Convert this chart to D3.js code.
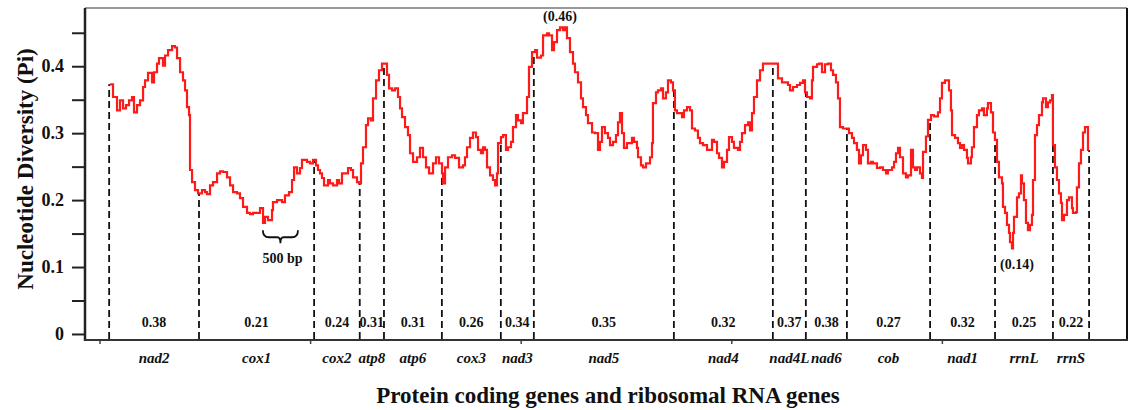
<!DOCTYPE html>
<html>
<head>
<meta charset="utf-8">
<script src="https://cdn.jsdelivr.net/npm/d3@7"></script>
<style>
  body { margin: 0; background: #fff; }
  svg text { font-family: "Liberation Serif", "Times New Roman", serif; font-weight: bold; fill: #111; }
</style>
</head>
<body>
<svg id="chart" width="1134" height="410"></svg>
<script>
// genes along the mitogenome, boundaries in bp, and mean Pi per gene
const genes = ["nad2", "cox1", "cox2", "atp8", "atp6", "cox3", "nad3", "nad5", "nad4", "nad4L", "nad6", "cob", "nad1", "rrnL", "rrnS"];
const geneBounds = [130, 1410, 3050, 3700, 4045, 4870, 5710, 6180, 8175, 9585, 10055, 10640, 11825, 12750, 13575, 14090];
const genePi = ["0.38", "0.21", "0.24", "0.31", "0.31", "0.26", "0.34", "0.35", "0.32", "0.37", "0.38", "0.27", "0.32", "0.25", "0.22"];

// sliding window: [window midpoint (bp), Pi]
const piSeries = [
  [142,0.373],[185,0.354],[242,0.334],[285,0.349],[328,0.337],[370,0.342],[413,0.349],[456,0.354],[484,0.331],[527,0.342],
  [570,0.349],[613,0.369],[641,0.379],[684,0.390],[741,0.376],[769,0.391],[812,0.404],[840,0.412],[897,0.401],[926,0.416],
  [969,0.424],[1026,0.430],[1068,0.428],[1097,0.412],[1140,0.391],[1182,0.379],[1211,0.364],[1239,0.339],[1268,0.327],[1282,0.245],
  [1311,0.227],[1353,0.215],[1396,0.210],[1453,0.215],[1496,0.212],[1524,0.209],[1567,0.222],[1610,0.227],[1667,0.240],[1709,0.243],
  [1752,0.242],[1809,0.234],[1852,0.222],[1895,0.212],[1952,0.210],[1994,0.203],[2037,0.190],[2094,0.181],[2137,0.179],[2179,0.181],
  [2236,0.181],[2279,0.188],[2322,0.166],[2350,0.175],[2393,0.170],[2450,0.185],[2464,0.197],[2521,0.200],[2593,0.197],[2635,0.207],
  [2692,0.212],[2735,0.230],[2764,0.249],[2806,0.240],[2849,0.248],[2877,0.260],[2949,0.257],[2991,0.255],[3034,0.260],[3077,0.252],
  [3105,0.245],[3134,0.240],[3162,0.233],[3191,0.222],[3248,0.230],[3276,0.225],[3319,0.222],[3376,0.230],[3405,0.225],[3447,0.240],
  [3490,0.240],[3533,0.248],[3575,0.245],[3604,0.234],[3661,0.227],[3689,0.225],[3718,0.255],[3746,0.279],[3789,0.312],[3818,0.322],
  [3860,0.319],[3889,0.352],[3932,0.379],[3974,0.394],[4017,0.404],[4046,0.404],[4088,0.387],[4117,0.367],[4160,0.364],[4202,0.367],
  [4245,0.354],[4274,0.337],[4302,0.324],[4345,0.309],[4387,0.297],[4416,0.270],[4459,0.257],[4516,0.264],[4558,0.278],[4601,0.264],
  [4644,0.249],[4687,0.240],[4744,0.255],[4786,0.264],[4829,0.255],[4872,0.240],[4886,0.225],[4915,0.249],[4957,0.264],[5014,0.267],
  [5057,0.263],[5114,0.249],[5171,0.252],[5199,0.264],[5228,0.279],[5271,0.293],[5313,0.301],[5356,0.294],[5385,0.275],[5427,0.270],
  [5456,0.279],[5484,0.275],[5513,0.249],[5556,0.237],[5598,0.230],[5627,0.222],[5655,0.240],[5670,0.285],[5712,0.294],[5741,0.297],
  [5783,0.275],[5812,0.279],[5855,0.287],[5883,0.309],[5926,0.327],[5954,0.319],[5997,0.315],[6025,0.330],[6083,0.354],[6111,0.399],
  [6154,0.421],[6197,0.424],[6225,0.413],[6282,0.416],[6311,0.446],[6368,0.449],[6396,0.446],[6439,0.424],[6467,0.436],[6510,0.454],
  [6553,0.458],[6595,0.454],[6624,0.458],[6652,0.442],[6695,0.421],[6738,0.404],[6766,0.391],[6809,0.376],[6852,0.352],[6880,0.339],
  [6923,0.327],[6951,0.315],[7009,0.301],[7051,0.300],[7094,0.275],[7122,0.287],[7151,0.309],[7193,0.300],[7236,0.293],[7265,0.282],
  [7307,0.287],[7350,0.297],[7379,0.316],[7407,0.330],[7436,0.300],[7464,0.278],[7507,0.285],[7536,0.285],[7578,0.293],[7607,0.287],
  [7649,0.278],[7664,0.264],[7706,0.252],[7735,0.249],[7778,0.255],[7806,0.255],[7835,0.264],[7863,0.285],[7877,0.345],[7920,0.361],
  [7948,0.364],[7991,0.367],[8020,0.352],[8062,0.361],[8091,0.379],[8133,0.376],[8162,0.364],[8190,0.334],[8219,0.330],[8248,0.330],
  [8291,0.324],[8319,0.334],[8362,0.339],[8405,0.334],[8433,0.307],[8476,0.304],[8518,0.293],[8547,0.285],[8590,0.282],[8647,0.275],
  [8675,0.275],[8718,0.290],[8746,0.287],[8789,0.270],[8818,0.263],[8860,0.249],[8889,0.257],[8932,0.275],[8960,0.294],[9003,0.287],
  [9031,0.278],[9088,0.275],[9117,0.287],[9145,0.300],[9188,0.312],[9231,0.316],[9259,0.304],[9288,0.330],[9316,0.354],[9359,0.379],
  [9402,0.394],[9444,0.404],[9501,0.404],[9573,0.404],[9630,0.404],[9658,0.382],[9715,0.376],[9758,0.376],[9801,0.372],[9829,0.364],
  [9872,0.369],[9929,0.372],[9972,0.375],[10014,0.379],[10043,0.361],[10071,0.354],[10114,0.352],[10142,0.379],[10157,0.399],[10214,0.403],
  [10242,0.404],[10285,0.391],[10328,0.403],[10370,0.404],[10413,0.394],[10442,0.387],[10484,0.376],[10513,0.352],[10541,0.309],[10584,0.307],
  [10641,0.307],[10669,0.300],[10712,0.293],[10741,0.285],[10783,0.275],[10812,0.255],[10840,0.267],[10869,0.282],[10912,0.275],[10940,0.255],
  [10983,0.257],[11011,0.255],[11068,0.248],[11111,0.249],[11154,0.245],[11197,0.240],[11225,0.245],[11282,0.249],[11311,0.257],[11339,0.270],
  [11368,0.278],[11396,0.264],[11439,0.240],[11481,0.234],[11510,0.237],[11553,0.275],[11581,0.249],[11610,0.245],[11638,0.249],[11681,0.240],
  [11709,0.233],[11724,0.272],[11766,0.295],[11795,0.320],[11838,0.327],[11880,0.325],[11937,0.331],[11966,0.352],[11994,0.375],[12037,0.379],
  [12080,0.379],[12094,0.364],[12122,0.334],[12137,0.297],[12180,0.293],[12222,0.285],[12251,0.278],[12279,0.282],[12308,0.275],[12350,0.263],
  [12365,0.255],[12407,0.264],[12421,0.279],[12450,0.309],[12493,0.327],[12521,0.334],[12564,0.337],[12592,0.327],[12635,0.337],[12649,0.345],
  [12692,0.331],[12721,0.301],[12749,0.290],[12778,0.257],[12806,0.234],[12849,0.225],[12863,0.190],[12892,0.181],[12920,0.163],[12949,0.151],
  [12963,0.137],[12991,0.128],[13006,0.151],[13020,0.175],[13063,0.204],[13091,0.210],[13120,0.237],[13134,0.225],[13162,0.200],[13191,0.166],
  [13219,0.155],[13248,0.163],[13276,0.178],[13291,0.230],[13319,0.297],[13348,0.312],[13376,0.327],[13419,0.346],[13433,0.352],[13476,0.339],
  [13504,0.346],[13533,0.349],[13561,0.357],[13575,0.282],[13604,0.249],[13632,0.230],[13661,0.210],[13689,0.196],[13704,0.170],[13732,0.178],
  [13775,0.200],[13803,0.204],[13846,0.188],[13860,0.181],[13903,0.182],[13917,0.219],[13946,0.255],[13974,0.275],[14003,0.301],[14031,0.309],
  [14060,0.309],[14074,0.275],[14088,0.275]
];

const yTicks = [0, 0.05, 0.1, 0.15, 0.2, 0.25, 0.3, 0.35, 0.4, 0.45];
const xTicks = [0, 3000, 6000, 9000, 12000];
const peakLabels = ["(0.46)", "(0.14)"];
const braceStart = 2320, braceLen = 500, braceLevel = 0.155;

const svg = d3.select("#chart");

const x = d3.scaleLinear().domain([-214, 14630]).range([85, 1127]);
const y = d3.scaleLinear().domain([-0.009, 0.487]).range([340, 8]);

// frame
svg.append("line").attr("x1", 85).attr("x2", 1127).attr("y1", 8).attr("y2", 8)
  .attr("stroke", "#777").attr("stroke-width", 1.5);
svg.append("line").attr("x1", 1127).attr("x2", 1127).attr("y1", 8).attr("y2", 340)
  .attr("stroke", "#111").attr("stroke-width", 2);

// y axis
const yAxis = d3.axisLeft(y)
  .tickValues(yTicks)
  .tickSize(13)
  .tickPadding(8)
  .tickFormat(d => {
    const t = Math.round(d * 100);
    if (t % 10 !== 0) return "";
    return t === 0 ? "0" : (t / 100).toFixed(1);
  });
const gy = svg.append("g").attr("transform", "translate(85,0)").call(yAxis);
gy.select(".domain").remove();
gy.selectAll(".tick line").attr("stroke", "#222").attr("stroke-width", 2);
gy.selectAll(".tick text")
  .attr("font-size", 18)
  .attr("fill", "#111")
  .attr("font-family", "Liberation Serif, Times New Roman, serif")
  .attr("font-weight", "bold");

// x axis small ticks
svg.selectAll(".xtick").data(xTicks).join("line")
  .attr("class", "xtick")
  .attr("x1", d => x(d)).attr("x2", d => x(d))
  .attr("y1", 340).attr("y2", 344)
  .attr("stroke", "#444").attr("stroke-width", 1.5);

svg.append("line").attr("x1", 85).attr("x2", 85).attr("y1", 8).attr("y2", 341)
  .attr("stroke", "#222").attr("stroke-width", 2.5);
svg.append("line").attr("x1", 84).attr("x2", 1128).attr("y1", 340).attr("y2", 340)
  .attr("stroke", "#333").attr("stroke-width", 2);

// dashed gene boundaries, up to the curve
const bisect = d3.bisector(d => d[0]).right;
function piAt(bp) {
  const i = Math.max(0, bisect(piSeries, bp) - 1);
  return piSeries[i][1];
}
svg.selectAll(".bound").data(geneBounds).join("line")
  .attr("class", "bound")
  .attr("x1", d => x(d)).attr("x2", d => x(d))
  .attr("y1", 339).attr("y2", d => y(piAt(d)))
  .attr("stroke", "#111").attr("stroke-width", 1.8)
  .attr("stroke-dasharray", "7,4");

// diversity curve
const line = d3.line()
  .x(d => x(d[0]))
  .y(d => y(d[1]))
  .curve(d3.curveStepAfter);
svg.append("path").datum(piSeries)
  .attr("d", line)
  .attr("fill", "none")
  .attr("stroke", "#ff1a1a")
  .attr("stroke-width", 2.2)
  .attr("stroke-linejoin", "miter");

// gene labels and per-gene Pi
const mids = genes.map((g, i) => (geneBounds[i] + geneBounds[i + 1]) / 2);
svg.selectAll(".pi").data(genePi).join("text")
  .attr("class", "pi")
  .attr("x", (d, i) => x(mids[i]))
  .attr("y", 327)
  .attr("text-anchor", "middle")
  .attr("font-size", 14)
  .text(d => d);

svg.selectAll(".gene").data(genes).join("text")
  .attr("class", "gene")
  .attr("x", (d, i) => x(mids[i]))
  .attr("y", 363)
  .attr("text-anchor", "middle")
  .attr("font-size", 15)
  .attr("font-style", "italic")
  .text(d => d);

// max / min annotations
const maxPt = piSeries.reduce((a, b) => (b[1] > a[1] ? b : a));
const minPt = piSeries.reduce((a, b) => (b[1] < a[1] ? b : a));
svg.append("text")
  .attr("x", x(maxPt[0])).attr("y", y(maxPt[1]) - 6)
  .attr("text-anchor", "middle").attr("font-size", 14)
  .text(peakLabels[0]);
svg.append("text")
  .attr("x", x(minPt[0]) + 5).attr("y", y(minPt[1]) + 21)
  .attr("text-anchor", "middle").attr("font-size", 14)
  .text(peakLabels[1]);

// 500 bp brace
const bx0 = x(braceStart), bx1 = x(braceStart + braceLen), bm = (bx0 + bx1) / 2, by = y(braceLevel);
svg.append("path")
  .attr("d", `M${bx0},${by} Q${bx0},${by + 7} ${bx0 + 6},${by + 7} L${bm - 3},${by + 7} Q${bm},${by + 7} ${bm},${by + 13} Q${bm},${by + 7} ${bm + 3},${by + 7} L${bx1 - 6},${by + 7} Q${bx1},${by + 7} ${bx1},${by}`)
  .attr("fill", "none").attr("stroke", "#111").attr("stroke-width", 1.8);
svg.append("text")
  .attr("x", bm + 2).attr("y", by + 33)
  .attr("text-anchor", "middle").attr("font-size", 14)
  .text(braceLen + " bp");

// axis titles
svg.append("text")
  .attr("transform", "translate(33,169) rotate(-90)")
  .attr("text-anchor", "middle")
  .attr("font-size", 23)
  .text("Nucleotide Diversity (Pi)");
svg.append("text")
  .attr("x", 608).attr("y", 403)
  .attr("text-anchor", "middle")
  .attr("font-size", 23)
  .text("Protein coding genes and ribosomal RNA genes");
</script>
</body>
</html>
